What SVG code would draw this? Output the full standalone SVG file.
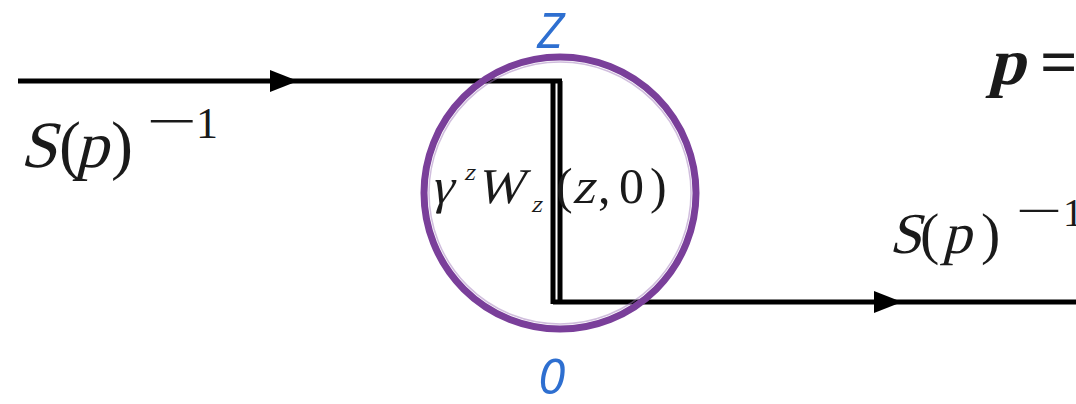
<svg xmlns="http://www.w3.org/2000/svg" width="1076" height="404" viewBox="0 0 1076 404">
<style>
.ln{stroke:#000;stroke-width:5;fill:none}
.m{fill:#1a1a1a;font-family:"Liberation Serif","DejaVu Serif",serif;font-style:normal}
.lbl{font-family:"Open Sans","Noto Sans",sans-serif;font-style:italic;fill:#2e6fd0}
</style>
<defs>
<marker id="arr" markerWidth="28" markerHeight="22" refX="14" refY="11" orient="auto" markerUnits="userSpaceOnUse">
<path d="M0,0 L28,11 L0,22 Z" fill="#000"/>
</marker>
</defs>
<rect width="1076" height="404" fill="#fff"/>
<g id="connectors">
<path class="ln" d="M18,81 L284,81" marker-end="url(#arr)"/>
<path class="ln" d="M284,81 L562,81"/>
<path class="ln" d="M553,83 L553,304"/>
<path class="ln" d="M560,81 L560,302"/>
<path class="ln" d="M553,302 L888,302" marker-end="url(#arr)"/>
<path class="ln" d="M888,302 L1076,302"/>
</g>
<g id="vertex">
<circle cx="560" cy="193" r="136" fill="none" stroke="#7a3f9a" stroke-width="7"/>
<circle cx="560" cy="193" r="131" fill="none" stroke="#a27bbb" stroke-width="1.5" opacity="0.5"/>
<g font-size="50">
<text class="m" transform="translate(430,203) skewX(-14)">γ</text>
<text class="m" font-size="24" transform="translate(464,180) skewX(-14)">z</text>
<text class="m" transform="translate(476,203) skewX(-14)">W</text>
<text class="m" font-size="24" transform="translate(531,212) skewX(-14)">z</text>
<text class="m" x="556" y="203">(</text>
<text class="m" transform="translate(572,203) skewX(-14)">z</text>
<text class="m" x="598" y="203">,</text>
<text class="m" x="619" y="203">0</text>
<text class="m" x="650" y="203">)</text>
</g>
</g>
<g id="label-z"><text class="lbl" x="537" y="48" font-size="50">Z</text></g>
<g id="label-0"><text class="lbl" x="538" y="394" font-size="50">0</text></g>
<g id="left-prop" font-size="66">
<text class="m" transform="translate(20,167) skewX(-14)">S</text>
<text class="m" x="59" y="167">(</text>
<text class="m" transform="translate(75,167) skewX(-14)">p</text>
<text class="m" x="111" y="167">)</text>
<text class="m" font-size="50" transform="translate(146,138) scale(1.8,1)">−</text>
<text class="m" x="196" y="138" font-size="44">1</text>
</g>
<g id="right-prop" font-size="58">
<text class="m" transform="translate(889,253) skewX(-14)">S</text>
<text class="m" x="920" y="253">(</text>
<text class="m" transform="translate(942,253) skewX(-14)">p</text>
<text class="m" x="981" y="253">)</text>
<text class="m" font-size="46" transform="translate(1016,226) scale(1.8,1)">−</text>
<text class="m" x="1063" y="226" font-size="40">1</text>
</g>
<g id="momentum" font-size="66" font-weight="bold">
<text class="m" transform="translate(988,84) skewX(-14)">p</text>
<text class="m" x="1040" y="84">=</text>
</g>
</svg>
